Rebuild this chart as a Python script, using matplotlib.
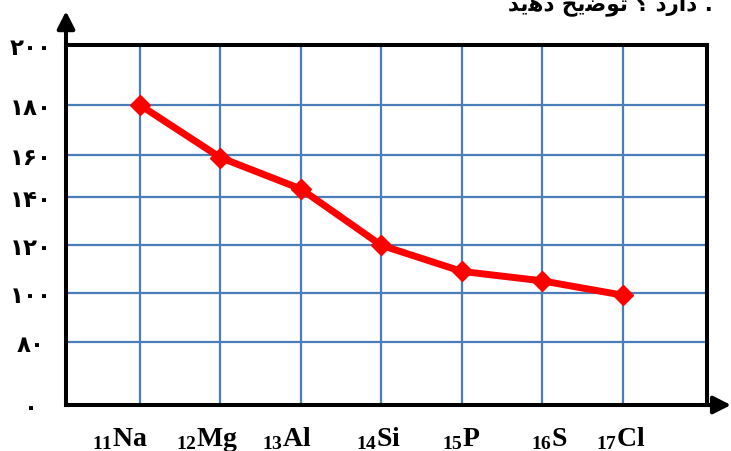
import numpy as np
import matplotlib
matplotlib.use("Agg")
import matplotlib.pyplot as plt
from matplotlib.transforms import ScaledTranslation

plt.rcParams['mathtext.fontset'] = 'custom'
plt.rcParams['mathtext.rm'] = 'Liberation Serif:bold'
plt.rcParams['mathtext.it'] = 'Liberation Serif:bold'
plt.rcParams['mathtext.bf'] = 'Liberation Serif:bold'

# ---------------- data ----------------
elements = ["Na", "Mg", "Al", "Si", "P", "S", "Cl"]
atomic_numbers = ["11", "12", "13", "14", "15", "16", "17"]
radius = [180, 159, 144, 120, 109, 105, 99]
ytick_values = [0, 80, 100, 120, 140, 160, 180, 200]
ytick_labels = ["۰", "۸۰", "۱۰۰", "۱۲۰", "۱۴۰", "۱۶۰", "۱۸۰", "۲۰۰"]
# caption fragment (pre-shaped Arabic presentation forms)
word_darad = "\uFEA9\uFEAD\uFE8D\uFEA9"
word_tozih = "\uFEA2\uFBFE\uFEBF\uFEEE\uFE97"
word_dahid = "\uFEAA\uFBFE\uFEEB\uFEA9"
caption = word_dahid + " " + word_tozih + " \u061F " + word_darad + " ."

# ---------------- layout (hand-drawn, non-uniform vertical scale) ----------------
scale_pos = [0, 0.175, 0.3119, 0.4436, 0.5769, 0.6931, 0.8333, 1.0]
label_dx_px = [-20, -13, -14.5, -3, -1, 7.5, -1.5]

def fwd(v):
    return np.interp(v, ytick_values, scale_pos)

def inv(p):
    return np.interp(p, scale_pos, ytick_values)

W, H = 731, 452
fig = plt.figure(figsize=(W / 100, H / 100), dpi=100)
ax = fig.add_axes([66 / W, 1 - 406 / H, (707 - 66) / W, (406 - 46) / H])
ax.set_yscale('function', functions=(fwd, inv))

x = np.arange(len(elements))
ax.set_xlim(-0.918, 7.047)
ax.set_ylim(0, 200)

grid_color = '#4a7ebb'
ax.set_xticks(x)
ax.set_xticklabels([])
ax.set_yticks(ytick_values)
ax.set_yticklabels(ytick_labels, fontsize=16.5, fontweight='bold',
                   family=['DejaVu Sans'], ha='center')
ax.tick_params(axis='y', length=0, pad=25.2)
ax.tick_params(axis='x', length=0)
ax.grid(True, color=grid_color, lw=1.6)
ax.set_axisbelow(True)

for s in ax.spines.values():
    s.set_linewidth(2.9)
    s.set_color('black')
    s.set_zorder(3)

ax.plot(x, radius, color='#ff0000', lw=5, marker='D', ms=10.5,
        zorder=4, clip_on=False)

# x labels
for i, (el, z) in enumerate(zip(elements, atomic_numbers)):
    tr = ax.get_xaxis_transform() + ScaledTranslation(label_dx_px[i] / 100, 0, fig.dpi_scale_trans)
    ax.text(x[i], (406 - 446) / 360, r"$_{%s}$%s" % (z, el), transform=tr,
            ha='center', va='baseline', fontsize=20, fontweight='bold',
            family='Liberation Serif')

# axis arrows
ap = dict(arrowstyle='-|>,head_length=0.75,head_width=0.38', lw=2.9, color='black',
          mutation_scale=14, shrinkA=0, shrinkB=0)
ax.annotate('', xy=(0, 1.094), xytext=(0, 0.99), xycoords='axes fraction',
            arrowprops=ap, annotation_clip=False)
ax.annotate('', xy=(1.0374, 0), xytext=(0.99, 0), xycoords='axes fraction',
            arrowprops=ap, annotation_clip=False)

fig.text(713 / W, 1 - 10 / H, caption, ha='right', va='baseline',
         fontsize=15.5, fontweight='bold', family=['DejaVu Sans'])

fig.savefig('out.png', dpi=100)
